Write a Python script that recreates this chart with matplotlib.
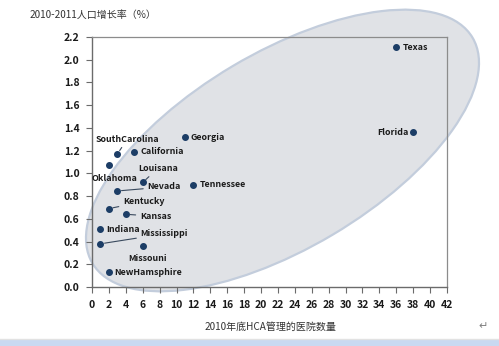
import matplotlib
matplotlib.use("Agg")
import matplotlib.pyplot as plt
from matplotlib.patches import Ellipse, Rectangle

plt.rcParams['font.family'] = ['Noto Sans CJK SC', 'DejaVu Sans']

states = ["Texas", "Florida", "Georgia", "SouthCarolina", "California", "Oklahoma",
          "Louisana", "Nevada", "Tennessee", "Kentucky", "Kansas", "Indiana",
          "Mississippi", "Missouni", "NewHamsphire"]
hospitals = [36, 38, 11, 3, 5, 2, 6, 3, 12, 2, 4, 1, 1, 6, 2]
growth = [2.11, 1.36, 1.32, 1.17, 1.19, 1.07, 0.92, 0.845, 0.90, 0.69, 0.64, 0.51, 0.38, 0.36, 0.13]

x_ticks = list(range(0, 43, 2))
y_ticks = [0.0, 0.2, 0.4, 0.6, 0.8, 1.0, 1.2, 1.4, 1.6, 1.8, 2.0, 2.2]
y_title = "2010-2011人口增长率（%）"
x_title = "2010年底HCA管理的医院数量"

# label placement: (dx, dy in pixels, ha, leader line)
label_style = {
    "Texas": (6, 0, "left", False),
    "Florida": (-5, 0, "right", False),
    "Georgia": (6, 0, "left", False),
    "SouthCarolina": (10, 15, "center", True),
    "California": (6, 0, "left", False),
    "Oklahoma": (6, -13, "center", False),
    "Louisana": (15, 14, "center", True),
    "Nevada": (30, 4, "left", True),
    "Tennessee": (6, 0, "left", False),
    "Kentucky": (14, 7, "left", True),
    "Kansas": (14, -2, "left", True),
    "Indiana": (6, 0, "left", False),
    "Mississippi": (40, 10, "left", True),
    "Missouni": (5, -12, "center", False),
    "NewHamsphire": (5, 0, "left", False),
}

W, H = 499, 346
fig = plt.figure(figsize=(W / 100, H / 100), dpi=100)
fig.patch.set_facecolor("white")

# background layer in pixel coordinates (y up)
bg = fig.add_axes([0, 0, 1, 1], zorder=0)
bg.set_xlim(0, W)
bg.set_ylim(0, H)
bg.axis("off")
bg.add_patch(Ellipse((282.5, 195.5), 442, 196, angle=30.7, facecolor="#e0e2e6",
                     edgecolor="#c3cddc", linewidth=1.6))
bg.add_patch(Rectangle((0, 0), W, 6, facecolor="#c9d9f1", edgecolor="none"))
bg.plot([0, W], [7, 7], color="#e2e2e2", lw=1)
bg.text(483, 20, "↵", fontsize=8, color="#808080", ha="center", va="center",
        family="DejaVu Sans")

ax = fig.add_axes([92 / W, 1 - 287 / H, 355 / W, 250 / H], zorder=1)
ax.patch.set_alpha(0)
ax.set_xlim(0, 42)
ax.set_ylim(0, 2.2)
ax.set_xticks(x_ticks)
ax.set_yticks(y_ticks)
ax.set_xticklabels([str(t) for t in x_ticks])
ax.set_yticklabels([f"{t:.1f}" for t in y_ticks])
for s in ["left", "bottom"]:
    ax.spines[s].set_color("#6b6b6b")
    ax.spines[s].set_linewidth(1.0)
for s in ["top", "right"]:
    ax.spines[s].set_color("#8c8c8c")
    ax.spines[s].set_linewidth(0.9)
ax.tick_params(axis="both", direction="out", length=4, width=0.8, color="#6b6b6b",
               labelsize=7.5, labelcolor="#1a1a1a", pad=5)
for lab in ax.get_xticklabels() + ax.get_yticklabels():
    lab.set_fontweight("bold")

ax.scatter(hospitals, growth, s=16, color="#1c3d66", zorder=3, clip_on=False)

for name, xv, yv in zip(states, hospitals, growth):
    dx, dy, ha, line = label_style[name]
    kw = {}
    if line:
        kw["arrowprops"] = dict(arrowstyle="-", color="#3a4a5e", lw=0.8,
                                shrinkA=1, shrinkB=3)
    ax.annotate(name, (xv, yv), xytext=(dx, dy), textcoords="offset pixels",
                ha=ha, va="center", fontsize=6.4, fontweight="bold",
                color="#1a1a1a", **kw)

fig.text(30 / W, 1 - 15 / H, y_title, fontsize=7.2, color="#333333", ha="left",
         va="center")
fig.text(270 / W, 1 - 327 / H, x_title, fontsize=7.2, color="#333333", ha="center",
         va="center")

fig.savefig("out.png", dpi=100)
